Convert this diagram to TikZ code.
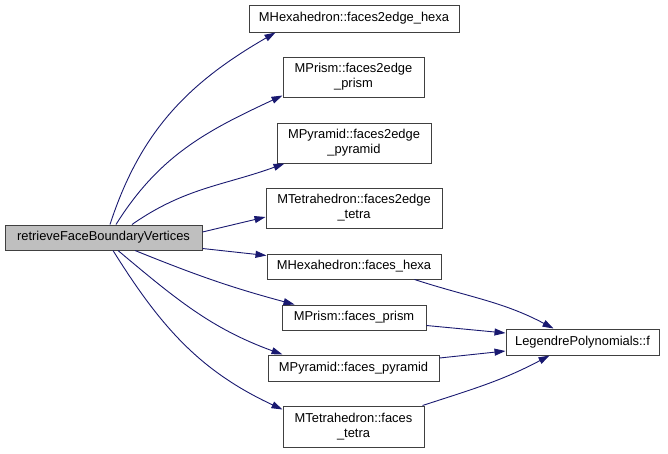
\documentclass[tikz,border=0pt]{standalone}
\usepackage{fontspec}
\setmainfont{Liberation Sans}
\usepackage{xcolor}
\usepackage{tikz}
\usetikzlibrary{arrows.meta,positioning}

\definecolor{edgeblue}{HTML}{191970}
\definecolor{boxline}{HTML}{404040}

\begin{document}
\begin{tikzpicture}[x=1pt, y=1pt,
  fn/.style={draw=boxline, fill=white, line width=1pt, rectangle, inner sep=0pt,
    align=center, font=\fontsize{12.9}{15}\selectfont},
  call/.style={draw=edgeblue, line width=0.9pt, -{Triangle[length=11pt,width=7pt]}}]
  \useasboundingbox (0,0) rectangle (668,-453);

  % Caller
  \node[fn, fill=black!25, minimum width=197, minimum height=25] (root) at (103.5,-237.5) {retrieveFaceBoundaryVertices};

  % Called functions
  \node[fn, minimum width=210, minimum height=27] (hexa2e) at (354,-18.5) {MHexahedron::faces2edge\_hexa};
  \node[fn, minimum width=141, minimum height=40] (prism2e) at (353.5,-77) {MPrism::faces2edge\\\_prism};
  \node[fn, minimum width=154, minimum height=40] (pyr2e) at (354,-143) {MPyramid::faces2edge\\\_pyramid};
  \node[fn, minimum width=176, minimum height=40] (tet2e) at (354,-208) {MTetrahedron::faces2edge\\\_tetra};
  \node[fn, minimum width=174, minimum height=25] (hexa) at (354,-266.5) {MHexahedron::faces\_hexa};
  \node[fn, minimum width=144, minimum height=25] (prism) at (354,-317.5) {MPrism::faces\_prism};
  \node[fn, minimum width=171, minimum height=26] (pyr) at (353.5,-368) {MPyramid::faces\_pyramid};
  \node[fn, minimum width=141, minimum height=41] (tet) at (353.5,-426.5) {MTetrahedron::faces\\\_tetra};

  % Second level
  \node[fn, minimum width=153, minimum height=26] (leg) at (582.5,-342) {LegendrePolynomials::f};

  % Calls from the caller
  \draw[call] ([xshift=6.5]root.north) to[out=72,in=210] ([xshift=27]hexa2e.south west);
  \draw[call] ([xshift=12.5]root.north) to[out=58,in=205] ([yshift=2]prism2e.south west);
  \draw[call] ([xshift=28.5]root.north) to[out=35,in=200] ([xshift=8]pyr2e.south west);
  \draw[call] ([yshift=5.5]root.east) -- ([yshift=-9]tet2e.west);
  \draw[call] ([yshift=2]root.south east) -- ([yshift=-2]hexa.north west);
  \draw[call] ([xshift=31.5]root.south) to[out=-22,in=165] ([xshift=13]prism.north west);
  \draw[call] ([xshift=14.5]root.south) to[out=-40,in=160] ([xshift=15]pyr.north west);
  \draw[call] ([xshift=9.5]root.south) to[out=-58,in=155] ([yshift=-4]tet.north west);

  % Calls into LegendrePolynomials
  \draw[call] ([xshift=-27]hexa.south east) to[out=-18,in=152] ([xshift=48]leg.north west);
  \draw[call] ([yshift=-8]prism.east) -- ([yshift=9]leg.west);
  \draw[call] ([yshift=10]pyr.east) -- ([yshift=-9]leg.west);
  \draw[call] ([xshift=-2]tet.north east) to[out=18,in=208] ([xshift=44]leg.south west);
\end{tikzpicture}
\end{document}
